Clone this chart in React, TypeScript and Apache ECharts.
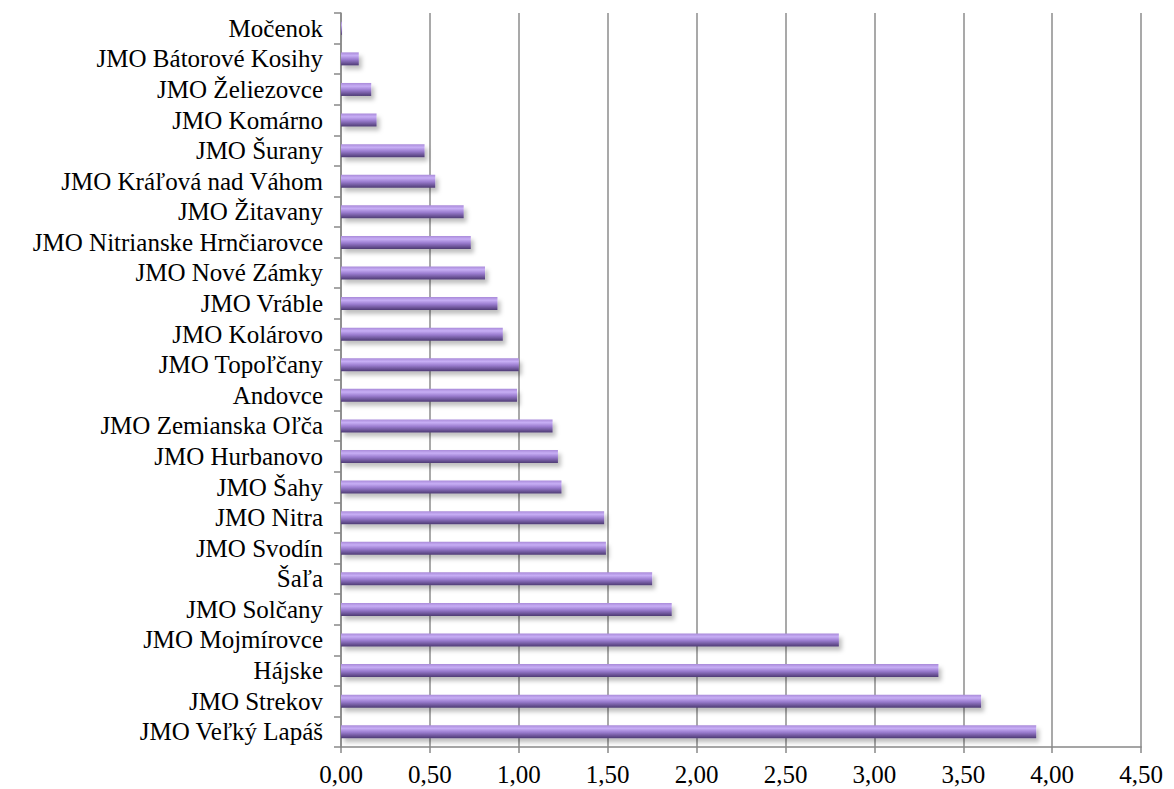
import React, { useEffect, useRef } from "react";
import * as echarts from "echarts";

const categories = [
  "JMO Veľký Lapáš",
  "JMO Strekov",
  "Hájske",
  "JMO Mojmírovce",
  "JMO Solčany",
  "Šaľa",
  "JMO Svodín",
  "JMO Nitra",
  "JMO Šahy",
  "JMO Hurbanovo",
  "JMO Zemianska Oľča",
  "Andovce",
  "JMO Topoľčany",
  "JMO Kolárovo",
  "JMO Vráble",
  "JMO Nové Zámky",
  "JMO Nitrianske Hrnčiarovce",
  "JMO Žitavany",
  "JMO Kráľová nad Váhom",
  "JMO Šurany",
  "JMO Komárno",
  "JMO Želiezovce",
  "JMO Bátorové Kosihy",
  "Močenok",
];

const values = [
  3.91, 3.6, 3.36, 2.8, 1.86, 1.75, 1.49, 1.48, 1.24, 1.22, 1.19, 0.99, 1.0,
  0.91, 0.88, 0.81, 0.73, 0.69, 0.53, 0.47, 0.2, 0.17, 0.1, 0.005,
];

const xTicks = { min: 0, max: 4.5, interval: 0.5 };

export default function App() {
  const ref = useRef<HTMLDivElement>(null);
  useEffect(() => {
    if (!ref.current) return;
    const chart = echarts.init(ref.current, null, { renderer: "svg" });
    const font = "Liberation Serif";
    const fs = 25;
    chart.setOption({
      animation: false,
      backgroundColor: "#ffffff",
      textStyle: { fontFamily: font },
      grid: { left: 333, right: 18, top: 5, bottom: 42, containLabel: false },
      xAxis: {
        type: "value",
        min: xTicks.min,
        max: xTicks.max,
        interval: xTicks.interval,
        axisLine: { show: true, lineStyle: { color: "#888888", width: 1.5 } },
        axisTick: { show: true, length: 6, lineStyle: { color: "#888888", width: 1.5 } },
        splitLine: { show: true, lineStyle: { color: "#8c8c8c", width: 1.5 } },
        axisLabel: {
          color: "#000000",
          fontFamily: font,
          fontSize: fs,
          margin: 15,
          formatter: (v: number) => v.toFixed(2).replace(".", ","),
        },
      },
      yAxis: {
        type: "category",
        data: categories,
        axisLine: { show: true, lineStyle: { color: "#888888", width: 1.5 } },
        axisTick: { show: true, length: 7, lineStyle: { color: "#888888", width: 1.5 } },
        axisLabel: {
          color: "#000000",
          fontFamily: font,
          fontSize: fs,
          margin: 18,
          interval: 0,
        },
      },
      series: [
        {
          type: "bar",
          data: values,
          barWidth: 13,
          itemStyle: {
            color: new echarts.graphic.LinearGradient(0, 0, 0, 1, [
              { offset: 0, color: "#a98ad9" },
              { offset: 0.25, color: "#c7aef5" },
              { offset: 0.55, color: "#9a7ccf" },
              { offset: 1, color: "#4e3b74" },
            ]),
            shadowColor: "rgba(0,0,0,0.25)",
            shadowBlur: 4,
            shadowOffsetX: 3,
            shadowOffsetY: 4,
          },
        },
      ],
    });
    return () => chart.dispose();
  }, []);
  return (
    <div style={{ position: "relative", fontFamily: "Liberation Serif" }}>
      <span style={{ position: "absolute", left: 0, top: 0, fontSize: 2, color: "#ffffff", fontFamily: "Liberation Serif" }}>.</span>
      <div ref={ref} style={{ width: 1158, height: 781 }} />
    </div>
  );
}
